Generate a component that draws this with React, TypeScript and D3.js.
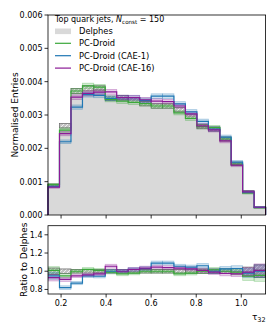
import React, { useEffect, useRef } from "react"
import * as d3 from "d3"

// tau_32 histogram bins (19 equal bins)
const binEdges = [0.142, 0.193, 0.244, 0.295, 0.345, 0.396, 0.447, 0.498, 0.549, 0.600,
  0.650, 0.701, 0.752, 0.803, 0.854, 0.905, 0.955, 1.006, 1.057, 1.108]

// Delphes normalised entries
const delphes = [0.00090, 0.00268, 0.00372, 0.00380, 0.00380, 0.00350, 0.00352, 0.00345, 0.00334, 0.00327,
  0.00327, 0.00316, 0.00296, 0.00265, 0.00258, 0.00228, 0.00154, 0.00070, 0.00023]
// relative uncertainty of Delphes
const delphesErr = [0.035, 0.025, 0.02, 0.02, 0.02, 0.02, 0.02, 0.02, 0.02, 0.02,
  0.02, 0.02, 0.022, 0.024, 0.025, 0.026, 0.03, 0.045, 0.07]

// ratio to Delphes of the generated samples
const pcDroidRatio = [1.01, 0.95, 1.0, 1.02, 1.01, 0.99, 0.97, 0.98, 1.0, 1.0,
  1.0, 0.97, 0.98, 1.0, 1.015, 1.0, 0.99, 0.945, 0.955]
const cae1Ratio = [0.95, 0.82, 0.87, 0.95, 0.945, 1.0, 1.0, 1.02, 1.03, 1.09,
  1.09, 1.055, 1.045, 1.06, 1.0, 1.025, 1.03, 0.98, 1.0]
const cae16Ratio = [0.93, 0.91, 0.95, 0.96, 0.97, 1.055, 1.0, 1.02, 1.035, 1.045,
  1.04, 1.035, 1.025, 1.01, 0.99, 0.975, 0.97, 0.99, 1.01]
// relative uncertainty of the generated samples
const modelErr = [0.04, 0.025, 0.02, 0.02, 0.02, 0.02, 0.02, 0.02, 0.02, 0.02,
  0.02, 0.02, 0.022, 0.024, 0.025, 0.026, 0.03, 0.05, 0.07]

const mainTicks = [0, 0.001, 0.002, 0.003, 0.004, 0.005, 0.006]
const ratioTicks = [0.8, 1.0, 1.2, 1.4]
const xTicks = [0.2, 0.4, 0.6, 0.8, 1.0]

const legendLabels = ["PC-Droid", "PC-Droid (CAE-1)", "PC-Droid (CAE-16)"]
const colors = ["#3aa83a", "#1f77b4", "#8b1a96"]
const ratios = [pcDroidRatio, cae1Ratio, cae16Ratio]

const FONT = "DejaVu Sans, sans-serif"

function stepPoints(vals: number[]) {
  const pts: [number, number][] = [[binEdges[0], 0]]
  vals.forEach((v, i) => {
    pts.push([binEdges[i], v])
    pts.push([binEdges[i + 1], v])
  })
  pts.push([binEdges[binEdges.length - 1], 0])
  return pts
}

export default function App() {
  const ref = useRef<SVGSVGElement>(null)

  useEffect(() => {
    const svg = d3.select(ref.current)
    svg.selectAll("*").remove()

    const left = 48, right = 265.6
    const main = { top: 15, bottom: 215 }
    const rat = { top: 225.7, bottom: 294 }

    const x = d3.scaleLinear().domain([binEdges[0], binEdges[binEdges.length - 1]]).range([left, right])
    const y = d3.scaleLinear().domain([0, 0.006]).range([main.bottom, main.top])
    const yr = d3.scaleLinear().domain([0.75, 1.5]).range([rat.bottom, rat.top])

    const defs = svg.append("defs")
    const pat = defs.append("pattern").attr("id", "hatch")
      .attr("patternUnits", "userSpaceOnUse").attr("width", 4).attr("height", 4)
    pat.append("rect").attr("width", 4).attr("height", 4).attr("fill", "#c2c2c2")
    pat.append("path").attr("d", "M-1,1 l2,-2 M0,4 l4,-4 M3,5 l2,-2")
      .attr("stroke", "#f4f4f4").attr("stroke-width", 0.9)

    defs.append("clipPath").attr("id", "clipRatio").append("rect")
      .attr("x", left).attr("y", rat.top).attr("width", right - left).attr("height", rat.bottom - rat.top)

    // ---------- main panel ----------
    const g = svg.append("g")
    const area = d3.area<[number, number]>().x(d => x(d[0])).y0(y(0)).y1(d => y(d[1]))
    g.append("path").attr("d", area(stepPoints(delphes)) as string).attr("fill", "#d9d9d9")

    g.selectAll(".dband").data(delphes).enter().append("rect")
      .attr("x", (d, i) => x(binEdges[i]))
      .attr("width", (d, i) => x(binEdges[i + 1]) - x(binEdges[i]))
      .attr("y", (d, i) => y(d * (1 + delphesErr[i])))
      .attr("height", (d, i) => y(d * (1 - delphesErr[i])) - y(d * (1 + delphesErr[i])))
      .attr("fill", "url(#hatch)").attr("stroke", "#707070").attr("stroke-width", 0.8)

    const line = d3.line<[number, number]>().x(d => x(d[0])).y(d => y(d[1]))

    ratios.forEach((r, k) => {
      const vals = delphes.map((d, i) => d * r[i])
      g.selectAll(".mband" + k).data(vals).enter().append("rect")
        .attr("x", (d, i) => x(binEdges[i]))
        .attr("width", (d, i) => x(binEdges[i + 1]) - x(binEdges[i]))
        .attr("y", (d, i) => y(d * (1 + modelErr[i])))
        .attr("height", (d, i) => y(d * (1 - modelErr[i])) - y(d * (1 + modelErr[i])))
        .attr("fill", colors[k]).attr("fill-opacity", 0.22)
        .attr("stroke", colors[k]).attr("stroke-opacity", 0.35).attr("stroke-width", 0.8)
    })
    ratios.forEach((r, k) => {
      const vals = delphes.map((d, i) => d * r[i])
      g.append("path").attr("d", line(stepPoints(vals)) as string)
        .attr("fill", "none").attr("stroke", colors[k]).attr("stroke-width", 1.2)
    })

    // ---------- ratio panel ----------
    const gr = svg.append("g").attr("clip-path", "url(#clipRatio)")
    gr.selectAll(".rdband").data(delphesErr).enter().append("rect")
      .attr("x", (d, i) => x(binEdges[i]))
      .attr("width", (d, i) => x(binEdges[i + 1]) - x(binEdges[i]))
      .attr("y", d => yr(1 + d))
      .attr("height", d => yr(1 - d) - yr(1 + d))
      .attr("fill", "url(#hatch)").attr("stroke", "#707070").attr("stroke-width", 0.8)

    const rline = d3.line<[number, number]>().x(d => x(d[0])).y(d => yr(d[1]))
    const rstep = (vals: number[]) => stepPoints(vals).slice(1, -1)

    ratios.forEach((r, k) => {
      gr.selectAll(".rband" + k).data(r).enter().append("rect")
        .attr("x", (d, i) => x(binEdges[i]))
        .attr("width", (d, i) => x(binEdges[i + 1]) - x(binEdges[i]))
        .attr("y", (d, i) => yr(d * (1 + modelErr[i])))
        .attr("height", (d, i) => yr(d * (1 - modelErr[i])) - yr(d * (1 + modelErr[i])))
        .attr("fill", colors[k]).attr("fill-opacity", 0.22)
        .attr("stroke", colors[k]).attr("stroke-opacity", 0.3).attr("stroke-width", 0.8)
    })
    ratios.forEach((r, k) => {
      gr.append("path").attr("d", rline(rstep(r)) as string)
        .attr("fill", "none").attr("stroke", colors[k]).attr("stroke-width", 1.2)
    })

    // ---------- axes ----------
    const ax = svg.append("g").attr("font-family", FONT).attr("fill", "#000")
    const frame = (top: number, bottom: number) => ax.append("rect")
      .attr("x", left).attr("y", top).attr("width", right - left).attr("height", bottom - top)
      .attr("fill", "none").attr("stroke", "#000").attr("stroke-width", 0.8)
    frame(main.top, main.bottom)
    frame(rat.top, rat.bottom)

    const tick = (x1: number, y1: number, x2: number, y2: number) => ax.append("line")
      .attr("x1", x1).attr("y1", y1).attr("x2", x2).attr("y2", y2)
      .attr("stroke", "#000").attr("stroke-width", 0.8)

    mainTicks.forEach(t => {
      tick(left - 3.5, y(t), left, y(t))
      ax.append("text").attr("x", left - 5.5).attr("y", y(t) + 2.9)
        .attr("text-anchor", "end").attr("font-size", 8).text(d3.format(".3f")(t))
    })
    ratioTicks.forEach(t => {
      tick(left - 3.5, yr(t), left, yr(t))
      ax.append("text").attr("x", left - 5.5).attr("y", yr(t) + 2.9)
        .attr("text-anchor", "end").attr("font-size", 8).text(d3.format(".1f")(t))
    })
    xTicks.forEach(t => {
      tick(x(t), main.bottom, x(t), main.bottom + 3.5)
      tick(x(t), rat.bottom, x(t), rat.bottom + 3.5)
      ax.append("text").attr("x", x(t)).attr("y", rat.bottom + 12)
        .attr("text-anchor", "middle").attr("font-size", 8).text(d3.format(".1f")(t))
    })

    ax.append("text").attr("transform", `translate(17.5,${(main.top + main.bottom) / 2}) rotate(-90)`)
      .attr("text-anchor", "middle").attr("font-size", 9).text("Normalised Entries")
    ax.append("text").attr("transform", `translate(26.5,${(rat.top + rat.bottom) / 2}) rotate(-90)`)
      .attr("text-anchor", "middle").attr("font-size", 9).text("Ratio to Delphes")

    const xl = ax.append("text").attr("x", right).attr("y", 320).attr("text-anchor", "end").attr("font-size", 9)
    xl.append("tspan").text("τ")
    xl.append("tspan").attr("font-size", 6.5).attr("dy", 2).text("32")

    // ---------- legend ----------
    const title = ax.append("text").attr("x", 55).attr("y", 22).attr("font-size", 8)
    title.append("tspan").text("Top quark jets, ")
    title.append("tspan").attr("font-style", "italic").text("N")
    title.append("tspan").attr("font-size", 5.6).attr("dy", 1.5).text("const")
    title.append("tspan").attr("dy", -1.5).text(" = 150")

    ax.append("rect").attr("x", 55).attr("y", 28.5).attr("width", 16).attr("height", 5.6).attr("fill", "#d9d9d9")
    ax.append("text").attr("x", 79).attr("y", 34.2).attr("font-size", 8.3).text("Delphes")
    legendLabels.forEach((lab, k) => {
      const yy = 43.3 + k * 12.4
      ax.append("line").attr("x1", 55).attr("x2", 71).attr("y1", yy).attr("y2", yy)
        .attr("stroke", colors[k]).attr("stroke-width", 1.2)
      ax.append("text").attr("x", 79).attr("y", yy + 3).attr("font-size", 8.3).text(lab)
    })
  }, [])

  return (
    <svg ref={ref} width={274} height={329}
      style={{ position: "absolute", left: 0, top: 0, background: "#fff" }} />
  )
}
